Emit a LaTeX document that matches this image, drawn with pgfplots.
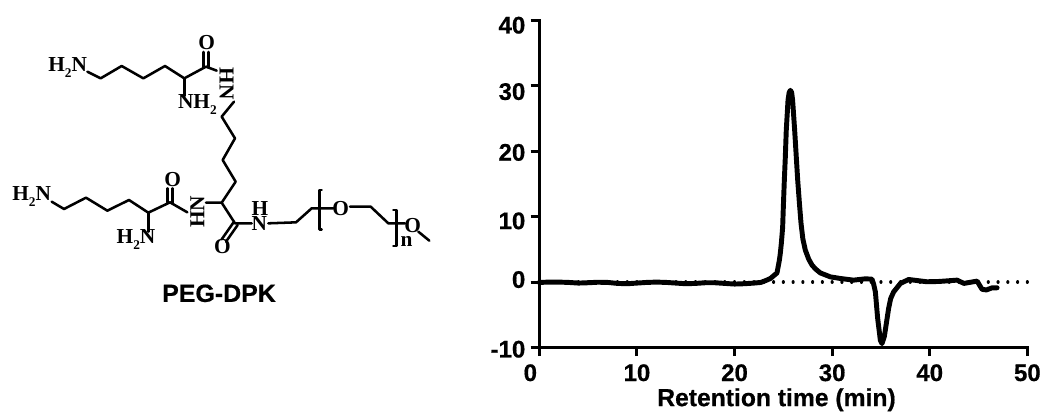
\documentclass[border=0pt]{standalone}
\usepackage{pgfplots}
\pgfplotsset{compat=1.18}
\usepackage{fontspec}
\setmainfont[BoldFeatures={FakeBold=0.6}]{Liberation Sans}
\newfontfamily\chemfont{Liberation Serif}
\newcommand{\sbs}{\raisebox{-0.28em}{\fontsize{10}{10}\selectfont 2}}
\begin{document}
\begin{tikzpicture}
\path[use as bounding box] (0,0) rectangle (786pt,311.25pt);
\begin{scope}[shift={(0,296.25pt)},x=0.25pt,y=-0.25pt,line width=1.9pt,line cap=round,line join=round]
% upper lysine
\draw (262,155)--(302,175)--(365,138)--(430,175)--(495,138)--(553,175)--(618,140)--(650,152);
\draw (553,175)--(553,228);
\draw (611,140)--(611,96) (626,143)--(626,96);
% central chain
\draw (702,245)--(665,290)--(705,355)--(668,420)--(707,485)--(665,548)--(618,548);
\draw (665,548)--(705,610)--(755,610);
\draw (700,608)--(665,658) (713,615)--(678,665);
% lower lysine
\draw (155,545)--(192,567)--(258,533)--(322,572)--(387,540)--(445,578)--(510,547)--(562,577);
\draw (445,578)--(445,635);
\draw (503,547)--(503,505) (518,550)--(518,505);
% PEG
\draw (805,610)--(888,607)--(935,565)--(1000,565);
\draw (1050,560)--(1112,560)--(1165,610)--(1215,610);
\draw (1255,635)--(1288,662);
\draw (965,510)--(958,510)--(958,628)--(965,628);
\draw (1180,570)--(1190,570)--(1190,678)--(1180,678);
\begin{scope}[every node/.style={inner sep=0pt,font=\chemfont\bfseries\fontsize{16}{16}\selectfont}]
\node at (203,143) {H\sbs N};
\node at (95,530) {H\sbs N};
\node at (408,658) {H\sbs N};
\node at (592,255) {NH\sbs};
\node at (620,68) {O};
\node at (518,480) {O};
\node at (667,680) {O};
\node at (1022,567) {O};
\node at (1238,618) {O};
\node at (778,612) {N};
\node at (780,565) {H};
\node at (1220,665) {n};
\node[rotate=-90] at (680,192) {HN};
\node[rotate=90] at (592,575) {HN};
\end{scope}
\node[inner sep=0pt,font=\bfseries\fontsize{18.7}{20}\selectfont] at (657,820) {PEG-DPK};
\end{scope}
\begin{axis}[
  at={(404.5pt,50.6pt)},anchor=south west,
  scale only axis,width=366pt,height=245.4pt,
  xmin=0,xmax=50,ymin=-10,ymax=40,
  axis lines*=left,
  axis line style={-,line width=2.25pt,line cap=rect},
  tick style={black,line width=2.25pt},
  tick align=outside,major tick length=6.5pt,
  xtick={0,10,20,30,40,50},
  xticklabels={{0\hspace*{13.5pt}},10,20,30,40,50},
  ytick={-10,0,10,20,30,40},
  yticklabels={{\rule{0pt}{15.1pt}-10},{\rule[-4pt]{0pt}{4pt}0},{\rule{0pt}{18.9pt}10},{\rule{0pt}{14.4pt}20},{\rule{0pt}{21.3pt}30},{\rule{0pt}{19.9pt}40}},
  ticklabel style={font=\bfseries\fontsize{18}{20}\selectfont},
  y tick label style={xshift=-0.5pt},
  x tick label style={yshift=-2.5pt},
  xlabel={Retention time (min)},
  x label style={at={(axis description cs:0.486,0)},anchor=north,yshift=-27pt,font=\bfseries\fontsize{18.5}{20}\selectfont},
  clip=false,
]
\addplot[black,line width=2.4pt,dash pattern=on 0.01pt off 7.31pt,line cap=round] coordinates {(0,0) (50.1,0)};
\addplot[black,line width=3.7pt,line join=round,line cap=round] coordinates {
(0,-0.05)(1,0)(2,0)(3,-0.05)(4,-0.15)(5,-0.1)(6,-0.02)(7,-0.05)(8,-0.2)(9,-0.25)(10,-0.15)(11,-0.05)(12,0)(13,-0.05)(14,-0.15)(15,-0.25)(16,-0.2)(17,-0.1)(18,-0.1)(19,-0.2)(20,-0.3)(21,-0.25)(22,-0.15)(22.7,-0.05)
(23.3,0.3)(23.67,0.55)(24.35,1.4)(24.6,3.4)(24.69,4.4)(24.8,6)(24.93,8.4)(25,11.5)(25.1,15.5)(25.2,19)(25.3,23.2)(25.48,27.8)(25.6,29)(25.72,29.3)(25.85,29)(25.95,27.8)(26.16,23.2)(26.47,15.6)(26.65,12)(26.81,9)(27,6.6)(27.25,4.9)(27.6,3.5)(27.94,2.6)(28.3,2)(28.79,1.4)(29.82,0.8)(30.84,0.55)(32.2,0.3)(33.4,0.5)(34.08,0.45)(34.25,-0.3)(34.43,-1.5)(34.66,-5.5)(34.94,-8.9)(35.11,-9.4)(35.35,-8.3)(35.79,-4)(36,-2.5)(36.3,-1.5)(37,-0.2)(37.84,0.4)(39.7,0.05)(41,0.1)(42.8,0.3)(43.5,-0.2)(44.85,0.15)(45.36,-1.1)(45.8,-1.2)(46.4,-0.87)(46.9,-0.87)};
\end{axis}
\end{tikzpicture}
\end{document}
